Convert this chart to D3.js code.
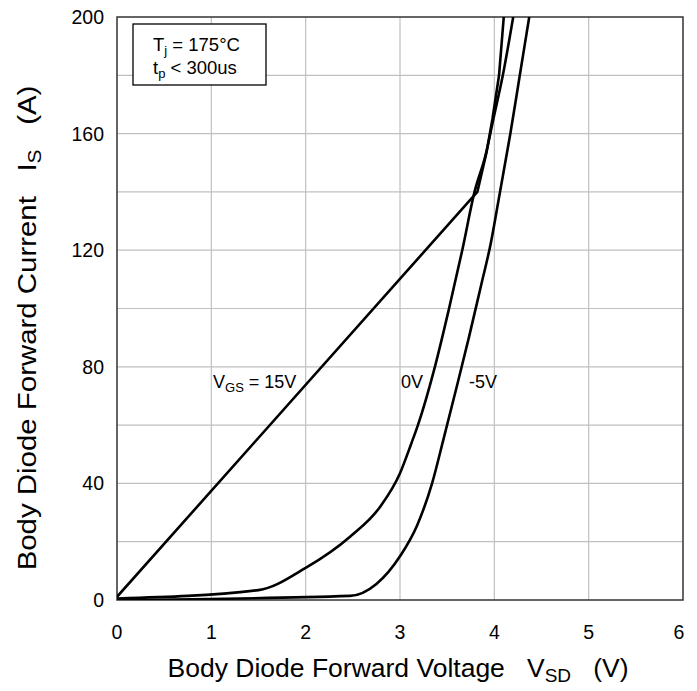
<!DOCTYPE html>
<html>
<head>
<meta charset="utf-8">
<script src="https://d3js.org/d3.v7.min.js"></script>
<style>
  body { margin: 0; background: #fff; }
  svg text { font-family: "Liberation Sans", Arial, sans-serif; fill: #000; white-space: pre; }
</style>
</head>
<body>
<svg id="chart" width="697" height="691"></svg>
<script>
// axis ticks
const xTicks = [0, 1, 2, 3, 4, 5, 6];
const yTicks = [0, 40, 80, 120, 160, 200];
const yGrid = d3.range(0, 201, 20);

// curves: [V_SD, I_S]
const curve15V = [[0, 1.1], [3.82, 140], [3.92, 154], [3.98, 165], [4.05, 180], [4.10, 200]];
const curve0V = [[0, 0.5], [1.5, 3.4], [2.0, 11], [2.47, 21.7], [2.79, 32], [3.0, 43.5], [3.12, 53.7],
                 [3.19, 60], [3.37, 80], [3.52, 100], [3.66, 120], [3.79, 140], [3.91, 153],
                 [3.99, 165], [4.09, 180], [4.20, 200]];
const curveM5V = [[0, 0], [2.47, 1.4], [2.75, 5.5], [3.0, 15], [3.18, 25.5], [3.34, 40], [3.46, 55],
                  [3.6, 73], [3.73, 90], [3.86, 108], [3.96, 122], [4.06, 140], [4.17, 160],
                  [4.27, 180], [4.37, 200]];

const svg = d3.select("#chart");
const plotL = 117, plotR = 683, plotT = 17, plotB = 600;

const x = d3.scaleLinear().domain([0, 6]).range([plotL, plotR]);
const y = d3.scaleLinear().domain([0, 200]).range([plotB, plotT]);

// grid
svg.append("g").selectAll("line").data(xTicks.slice(1, -1)).join("line")
  .attr("x1", d => x(d)).attr("x2", d => x(d))
  .attr("y1", plotT).attr("y2", plotB)
  .attr("stroke", "#c0c0c0").attr("stroke-width", 1.2);
svg.append("g").selectAll("line").data(yGrid.slice(1, -1)).join("line")
  .attr("x1", plotL).attr("x2", plotR)
  .attr("y1", d => y(d)).attr("y2", d => y(d))
  .attr("stroke", "#c0c0c0").attr("stroke-width", 1.2);

// frame
svg.append("rect")
  .attr("x", plotL).attr("y", plotT)
  .attr("width", plotR - plotL).attr("height", plotB - plotT)
  .attr("fill", "none").attr("stroke", "#333").attr("stroke-width", 1.5);

// tick labels
svg.append("g").selectAll("text").data(xTicks).join("text")
  .attr("x", d => x(d) - (d === 6 ? 4 : 0)).attr("y", 639)
  .attr("text-anchor", "middle").attr("font-size", 19.5)
  .text(d => d);
svg.append("g").selectAll("text").data(yTicks).join("text")
  .attr("x", 104).attr("y", d => y(d) + 7)
  .attr("text-anchor", "end").attr("font-size", 19.5)
  .text(d => d);

// curves
const lineLin = d3.line().x(d => x(d[0])).y(d => y(d[1]));
const lineSmooth = d3.line().x(d => x(d[0])).y(d => y(d[1])).curve(d3.curveMonotoneX);

svg.append("clipPath").attr("id", "plot")
  .append("rect").attr("x", plotL).attr("y", plotT).attr("width", plotR - plotL).attr("height", plotB - plotT);

const curves = svg.append("g").attr("clip-path", "url(#plot)");
curves.append("path").attr("d", lineLin(curve15V))
  .attr("fill", "none").attr("stroke", "#000").attr("stroke-width", 2.6).attr("stroke-linejoin", "round");
curves.append("path").attr("d", lineSmooth(curve0V))
  .attr("fill", "none").attr("stroke", "#000").attr("stroke-width", 2.6).attr("stroke-linejoin", "round");
curves.append("path").attr("d", lineSmooth(curveM5V))
  .attr("fill", "none").attr("stroke", "#000").attr("stroke-width", 2.6).attr("stroke-linejoin", "round");

// curve labels
const t15 = svg.append("text").attr("x", 213).attr("y", 388).attr("font-size", 18);
t15.append("tspan").text("V");
t15.append("tspan").attr("font-size", 13).attr("dy", 4).text("GS");
t15.append("tspan").attr("dy", -4).text(" = 15V");
svg.append("text").attr("x", 401).attr("y", 388).attr("font-size", 18).text("0V");
svg.append("text").attr("x", 469).attr("y", 388).attr("font-size", 18).text("-5V");

// conditions box
svg.append("rect").attr("x", 133).attr("y", 24).attr("width", 133).attr("height", 61)
  .attr("fill", "#fff").attr("stroke", "#000").attr("stroke-width", 1.3);
const c1 = svg.append("text").attr("x", 153).attr("y", 51).attr("font-size", 18.5);
c1.append("tspan").text("T");
c1.append("tspan").attr("font-size", 13).attr("dy", 4).text("j");
c1.append("tspan").attr("dy", -4).text(" = 175°C");
const c2 = svg.append("text").attr("x", 153).attr("y", 74).attr("font-size", 18.5);
c2.append("tspan").text("t");
c2.append("tspan").attr("font-size", 13).attr("dy", 4).text("p");
c2.append("tspan").attr("dy", -4).text(" < 300us");

// axis titles
const xt = svg.append("text").attr("x", 398).attr("y", 677)
  .attr("text-anchor", "middle").attr("font-size", 26.5);
xt.append("tspan").text("Body Diode Forward Voltage   V");
xt.append("tspan").attr("font-size", 19).attr("dy", 5).text("SD");
xt.append("tspan").attr("dy", -5).text("   (V)");

const yt = svg.append("text").attr("transform", "translate(36,328) rotate(-90) scale(1.11,1)")
  .attr("text-anchor", "middle").attr("font-size", 26.5);
yt.append("tspan").text("Body Diode Forward Current   I");
yt.append("tspan").attr("font-size", 19).attr("dy", 5).text("S");
yt.append("tspan").attr("dy", -5).text("   (A)");
</script>
</body>
</html>
